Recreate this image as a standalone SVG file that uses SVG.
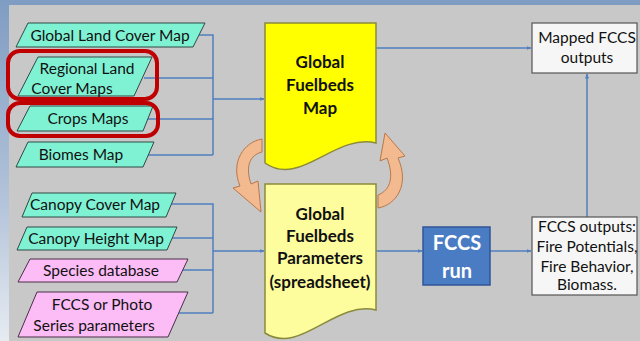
<svg xmlns="http://www.w3.org/2000/svg" width="640" height="341" viewBox="0 0 640 341">
<defs>
<linearGradient id="side" x1="0" y1="0" x2="0" y2="1">
<stop offset="0" stop-color="#7f9cc2"/>
<stop offset="0.6" stop-color="#b4c4da"/>
<stop offset="1" stop-color="#e6ebf2"/>
</linearGradient>
<marker id="arr" viewBox="0 0 10 10" refX="9" refY="5" markerWidth="5" markerHeight="5" orient="auto" markerUnits="userSpaceOnUse">
<path d="M0,1 L10,5 L0,9 Z" fill="#4f7fbf"/>
</marker>
<style>
.t{font-family:Lato,"Liberation Sans",sans-serif;font-size:15.5px;fill:#111111;text-anchor:middle}
.b{font-family:Lato,"Liberation Sans",sans-serif;font-size:17px;font-weight:bold;fill:#111111;text-anchor:middle}
.w{font-family:Lato,"Liberation Sans",sans-serif;font-size:20px;font-weight:bold;fill:#ffffff;text-anchor:middle}
.teal{fill:#80f2d4;stroke:#2e4a44;stroke-width:1}
.pink{fill:#fcbcf6;stroke:#4a2e48;stroke-width:1}
.doc{stroke:#8a8a3c;stroke-width:1.5}
.box{fill:#f6f6f6;stroke:#555555;stroke-width:1.2}
.ring{fill:none;stroke:#c00000;stroke-width:4}
.c{fill:none;stroke:#4f7fbf;stroke-width:1.5}
.ca{fill:#f3b98f;stroke:#b8784a;stroke-width:1}
</style>
</defs>
<rect x="0" y="0" width="640" height="341" fill="#c8c8c8"/>
<rect x="0" y="0" width="640" height="5" fill="#7f9cc2"/>
<rect x="0" y="0" width="9" height="341" fill="url(#side)"/>

<g id="connectors">
<path class="c" d="M198,35 H213 V155 M144,78 H213 M147,119 H213 M148,155 H213"/>
<path class="c" d="M213,99 H264" marker-end="url(#arr)"/>
<path class="c" d="M171,204 H213 V313 M172,238 H213 M182,270 H213 M178,313 H213"/>
<path class="c" d="M213,251 H264" marker-end="url(#arr)"/>
<path class="c" d="M376,48 H531" marker-end="url(#arr)"/>
<path class="c" d="M376,251 H422" marker-end="url(#arr)"/>
<path class="c" d="M490,251 H531" marker-end="url(#arr)"/>
<path class="c" d="M587,217 V74" marker-end="url(#arr)"/>
</g>

<g id="global-land-cover">
<polygon class="teal" points="28,23 205,23 193,47 16,47"/>
<text class="t" x="110" y="41">Global Land Cover Map</text>
</g>
<g id="regional-land-cover">
<polygon class="teal" points="38,57 152,57 134,96 18,96"/>
<text class="t" x="87" y="74">Regional Land</text>
<text class="t" x="72" y="94">Cover Maps</text>
</g>
<g id="crops-maps">
<polygon class="teal" points="30,106 153,106 143,131 17,131"/>
<text class="t" x="88" y="124">Crops Maps</text>
</g>
<g id="biomes-map">
<polygon class="teal" points="28,142 154,142 143,167 16,167"/>
<text class="t" x="81" y="160">Biomes Map</text>
</g>
<g id="highlights">
<rect class="ring" x="8" y="51" width="149" height="48" rx="12"/>
<rect class="ring" x="8" y="103" width="150" height="33" rx="12"/>
</g>

<g id="canopy-cover">
<polygon class="teal" points="32,193 176,193 166,217 22,217"/>
<text class="t" x="95" y="210">Canopy Cover Map</text>
</g>
<g id="canopy-height">
<polygon class="teal" points="27,227 177,227 167,250 17,250"/>
<text class="t" x="96" y="244">Canopy Height Map</text>
</g>
<g id="species-db">
<polygon class="pink" points="30,259 188,259 177,282 18,282"/>
<text class="t" x="101" y="276">Species database</text>
</g>
<g id="fccs-photo">
<polygon class="pink" points="37,292 188,292 168,337 18,337"/>
<text class="t" x="102" y="310">FCCS or Photo</text>
<text class="t" x="94" y="331">Series parameters</text>
</g>

<g id="fuelbeds-map">
<path class="doc" fill="#ffff00" d="M265,23 H376 V143 C335,133 300,188 265,163 Z"/>
<text class="b" x="320" y="68">Global</text>
<text class="b" x="320" y="91">Fuelbeds</text>
<text class="b" x="320" y="114">Map</text>
</g>
<g id="fuelbeds-params">
<path class="doc" fill="#fdfd9e" d="M265,184 H376 V310 C335,300 300,356 265,333 Z"/>
<text class="b" x="320" y="220">Global</text>
<text class="b" x="320" y="242">Fuelbeds</text>
<text class="b" x="320" y="264">Parameters</text>
<text class="b" x="320" y="288">(spreadsheet)</text>
</g>

<g id="cycle-arrows">
<path class="ca" d="M262,139 C244,142 230,162 240,186 L233,188 L261,212 L258,181 L251,184 C245,166 250,155 262,152 Z"/>
<path class="ca" d="M378,208 C396,205 410,185 398,158 L405,156 L385,133 L380,161 L387,158 C394,176 391,190 378,195 Z"/>
</g>

<g id="fccs-run">
<rect x="423" y="227" width="67" height="58" fill="#4a7cc4" stroke="#2f5597" stroke-width="1.5"/>
<text class="w" x="457" y="250">FCCS</text>
<text class="w" x="457" y="278">run</text>
</g>

<g id="mapped-outputs">
<rect class="box" x="532" y="23" width="105" height="50"/>
<text class="t" x="587" y="43">Mapped FCCS</text>
<text class="t" x="587" y="63">outputs</text>
</g>
<g id="fccs-outputs">
<rect class="box" x="532" y="217" width="105" height="78"/>
<text class="t" x="587" y="232">FCCS outputs:</text>
<text class="t" x="587" y="252">Fire Potentials,</text>
<text class="t" x="587" y="272">Fire Behavior,</text>
<text class="t" x="587" y="290">Biomass.</text>
</g>
</svg>
